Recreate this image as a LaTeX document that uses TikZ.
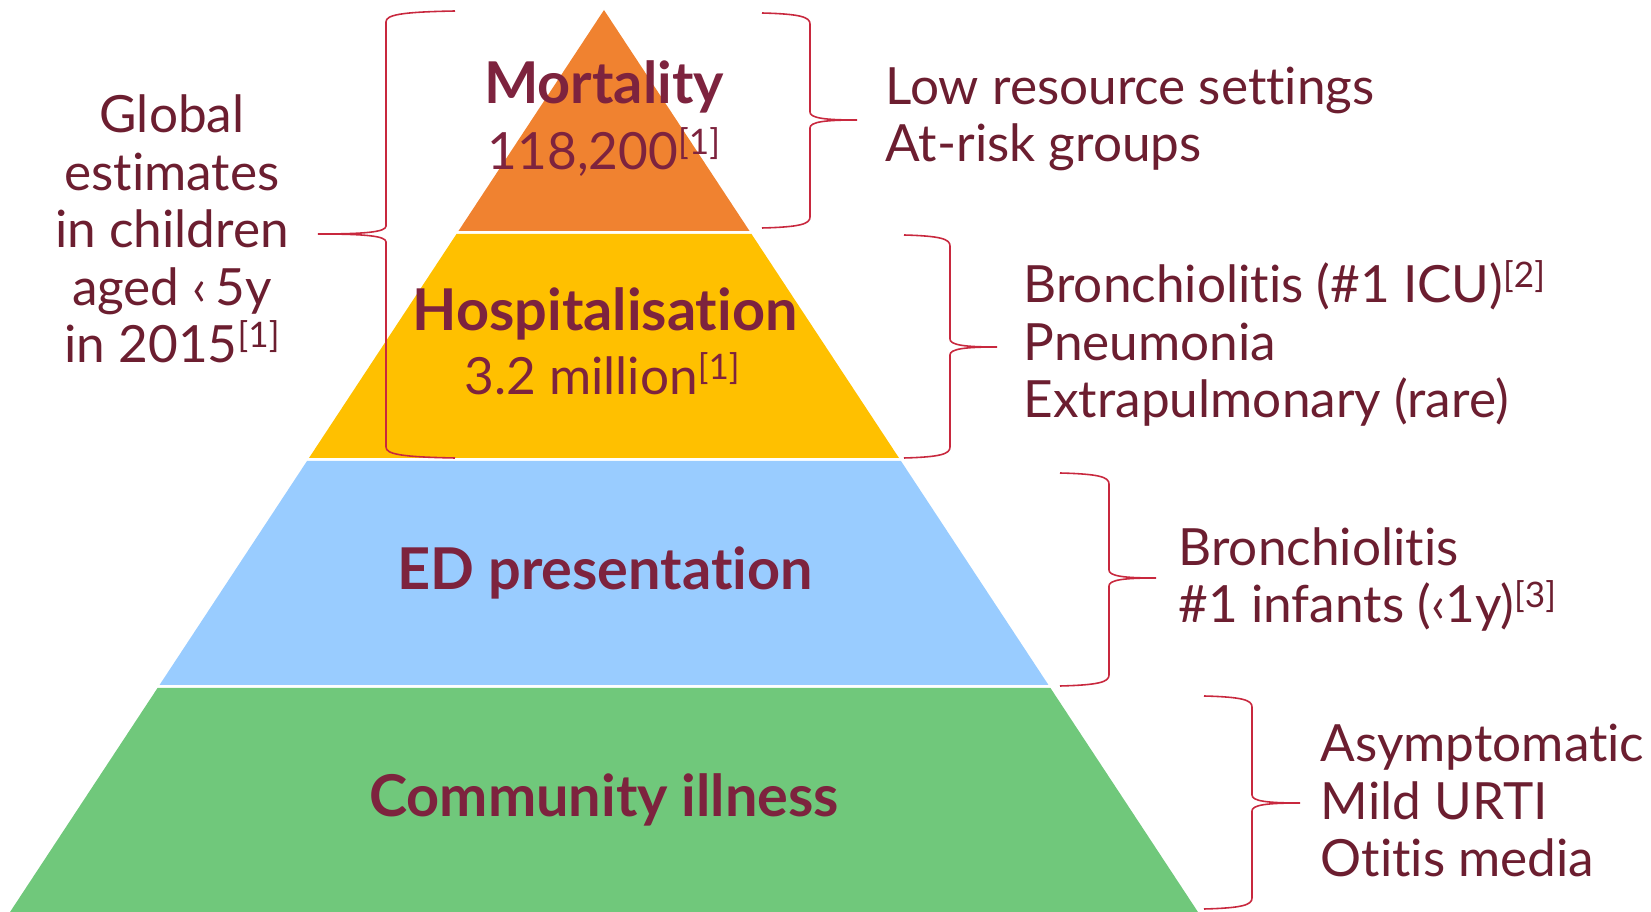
\documentclass[tikz,border=0pt]{standalone}
\usepackage{fontspec}
\setmainfont{Lato}[Ligatures={NoCommon}]
\usetikzlibrary{positioning}

\definecolor{mortcol}{RGB}{240,130,48}
\definecolor{hospcol}{RGB}{255,192,0}
\definecolor{edcol}{RGB}{153,204,255}
\definecolor{commcol}{RGB}{112,200,123}
\definecolor{wine}{RGB}{125,35,62}
\definecolor{darkwine}{RGB}{108,30,48}
\definecolor{bracered}{RGB}{200,40,62}

% citation mark after a figure
\newcommand{\refmark}[1]{\raisebox{4.4pt}{\fontsize{10}{10}\selectfont[#1]}}
% curly brace: end x, spine x, tip x, top y, tip y, bottom y
\newcommand{\bracedraw}[6]{%
  \draw[bracepen] (#1,#4) .. controls ({#1+0.8*(#2-#1)},{#4+1}) and (#2,{#4+4}) .. (#2,{#4+11})
    -- (#2,{#5-8}) .. controls (#2,{#5-2}) and ({#2+0.3*(#3-#2)},#5) .. (#3,#5)
    .. controls ({#2+0.3*(#3-#2)},#5) and (#2,{#5+2}) .. (#2,{#5+8})
    -- (#2,{#6-11}) .. controls (#2,{#6-4}) and ({#1+0.8*(#2-#1)},{#6-1}) .. (#1,#6);}

\begin{document}
\begin{tikzpicture}[x=0.1mm,y=-0.1mm,
    bracepen/.style={draw=bracered,line width=0.45pt},
    tier/.style={inner sep=0pt,anchor=base,text=wine,font=\fontsize{16.4}{19}\selectfont\bfseries},
    figure/.style={inner sep=0pt,anchor=base,text=wine,font=\fontsize{14.6}{17}\selectfont},
    note/.style={inner sep=0pt,anchor=base west,align=left,text=darkwine,
      font=\fontsize{14.6}{16.4}\selectfont}]
  \useasboundingbox (0,0) rectangle (1651,912);
  % the four tiers of the pyramid, white gaps between them
  \foreach \yt/\yb/\col in {10/231/mortcol, 234/458/hospcol,
      461/685/edcol, 688/912/commcol}{
    \fill[\col] ({604-0.6585*(\yt-10)},\yt) -- ({604+0.6585*(\yt-10)},\yt)
      -- ({604+0.6585*(\yb-10)},\yb) -- ({604-0.6585*(\yb-10)},\yb) -- cycle;
  }
  % braces
  \bracedraw{455}{386}{318}{11}{234}{458}
  \bracedraw{762}{810}{857}{13}{120}{228}
  \bracedraw{904}{950}{997}{235}{347}{458}
  \bracedraw{1060}{1109}{1156}{473}{578}{686}
  \bracedraw{1204}{1252}{1300}{696}{803}{909}
  % tier labels
  \node[tier]   (mort)    at (604,104) {Mortality};
  \node[figure] (mortnum) at (604,170) {118,200\refmark{1}};
  \node[tier]   (hosp)    at (605,331) {Hospitalisation};
  \node[figure] (hospnum) at (602,395) {3.2 million\refmark{1}};
  \node[tier]   (ed)      at (605,590) {ED presentation};
  \node[tier]   (comm)    at (604,817) {Community illness};
  % side notes (placed at the baseline of their last line)
  \node[note,anchor=base,align=center] (glob) at (172,363)
    {Global\\estimates\\in children\\aged ‹\,5y\\in 2015\refmark{1}};
  \node[note] (mortnote) at (885,162) {Low resource settings\\At-risk groups};
  \node[note] (hospnote) at (1023,418)
    {Bronchiolitis (\#1 ICU)\refmark{2}\\Pneumonia\\Extrapulmonary (rare)};
  \node[note] (ednote) at (1178,623) {Bronchiolitis\\\#1 infants (‹1y)\refmark{3}};
  \node[note] (commnote) at (1320,877) {Asymptomatic\\Mild URTI\\Otitis media};
\end{tikzpicture}
\end{document}
